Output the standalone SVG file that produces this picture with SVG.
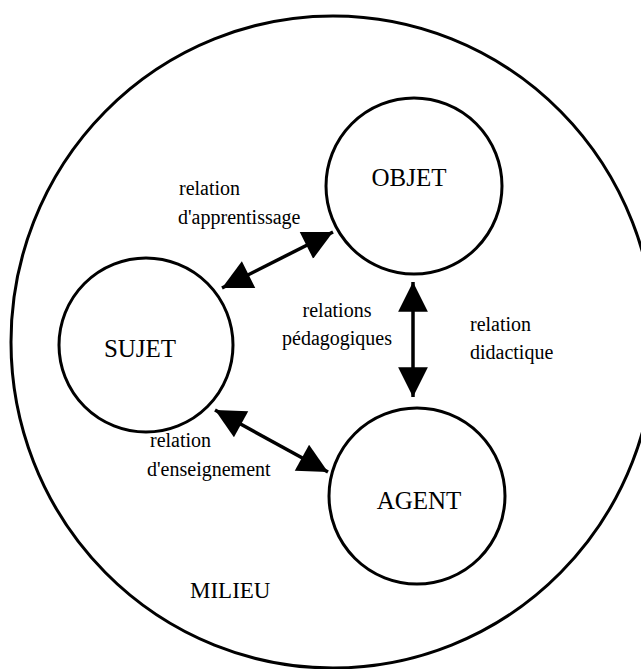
<svg xmlns="http://www.w3.org/2000/svg" width="641" height="669" viewBox="0 0 641 669">
<style>
.c{fill:none;stroke:#000;stroke-width:3}
.t{font-family:"Liberation Serif","Times New Roman",serif;font-size:20px;fill:#000}
.n{font-family:"Liberation Serif","Times New Roman",serif;font-size:25px;fill:#000;text-anchor:middle}
.a{stroke:#000;stroke-width:3.5;fill:none;marker-start:url(#h);marker-end:url(#h)}
</style>
<defs>
<marker id="h" viewBox="0 0 10 10" refX="10" refY="5" markerWidth="9" markerHeight="8.5" markerUnits="strokeWidth" orient="auto-start-reverse">
<path d="M0,0 L10,5 L0,10 Z" fill="#000"/>
</marker>
</defs>
<g id="milieu">
<ellipse class="c" cx="333" cy="342" rx="322" ry="326"/>
<text class="t" x="190" y="598" style="font-size:23px">MILIEU</text>
</g>
<g id="sujet">
<circle class="c" cx="146" cy="345" r="87"/>
<text class="n" x="140" y="357">SUJET</text>
</g>
<g id="objet">
<circle class="c" cx="414" cy="186" r="88"/>
<text class="n" x="409" y="186">OBJET</text>
</g>
<g id="agent">
<circle class="c" cx="417" cy="496" r="88"/>
<text class="n" x="419" y="509">AGENT</text>
</g>
<g id="connectors">
<line class="a" x1="222" y1="288" x2="333" y2="232"/>
<line class="a" x1="413" y1="282" x2="413" y2="397"/>
<line class="a" x1="215" y1="410" x2="328" y2="472"/>
</g>
<g id="labels">
<text class="t" x="179" y="195">relation</text>
<text class="t" x="178" y="224">d'apprentissage</text>
<text class="t" x="337" y="317" text-anchor="middle">relations</text>
<text class="t" x="337" y="345" text-anchor="middle">pédagogiques</text>
<text class="t" x="470" y="331">relation</text>
<text class="t" x="470" y="359">didactique</text>
<text class="t" x="150" y="447">relation</text>
<text class="t" x="147" y="476">d'enseignement</text>
</g>
</svg>
